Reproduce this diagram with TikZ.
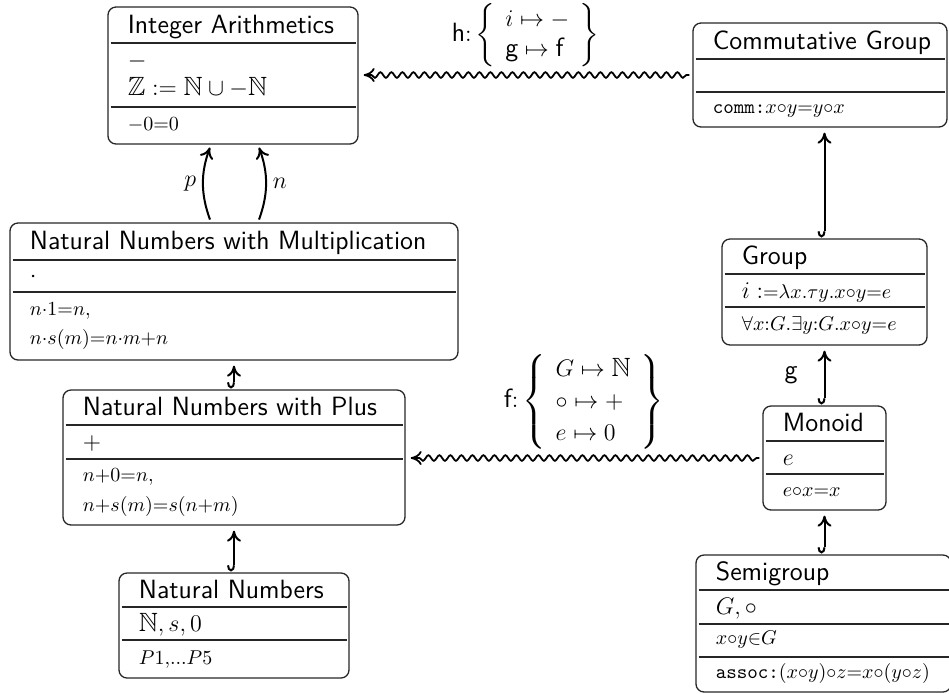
\documentclass[tikz,border=0pt]{standalone}
\usepackage{fontspec}
\usepackage{amsmath,amssymb}
\usetikzlibrary{arrows.meta,decorations.pathmorphing,fit,calc}
\DeclareMathSizes{13.2}{13.2}{10}{7}
\begin{document}
\begin{tikzpicture}[x=0.5pt,y=-0.5pt,
  frame/.style={draw=black!85, line width=0.65pt, rounded corners=4pt, inner sep=0pt},
  sepline/.style={draw=black!85, line width=0.6pt},
  ttl/.style={anchor=base west, inner sep=0pt, font=\fontsize{13.2}{16}\selectfont\sffamily},
  txt/.style={anchor=base west, inner sep=0pt, font=\fontsize{13.2}{16}\selectfont},
  lab/.style={font=\fontsize{13.2}{16}\selectfont, inner sep=1pt},
  tip/.style={-{To[length=5.5pt,width=7pt]}},
  conn/.style={line width=1pt, tip, shorten <=1.5pt, shorten >=1.5pt},
  incl/.style={line width=1pt, {Hooks[right,length=3pt,width=7pt]}-{To[length=5.5pt,width=7pt]}, shorten <=0.5pt, shorten >=2.5pt},
  wavy/.style={line width=0.9pt, tip, decorate, decoration={snake, amplitude=1.4pt, segment length=5.5pt, pre length=3pt, post length=6pt}, shorten >=2.5pt, shorten <=1.5pt}
]
\useasboundingbox (0,0) rectangle (949,693);

% Integer Arithmetics
\node[frame, fit={(108,7)(358,144)}] (ia) {};
\draw[sepline] (110.5,43) -- (355.5,43) (110.5,107) -- (355.5,107);
\node[ttl] (iat) at (127.5,33) {Integer Arithmetics};
\node[txt] (iac1) at (127.5,67) {$-$};
\node[txt] (iac2) at (127.5,95) {$\mathbb{Z} := \mathbb{N}\cup -\mathbb{N}$};
\node[txt] (iaa) at (127.5,130) {$\scriptstyle -0=0$};

% Commutative Group
\node[frame, fit={(693,23)(947,127)}] (cg) {};
\draw[sepline] (695.5,59) -- (944.5,59) (695.5,92) -- (944.5,92);
\node[ttl] (cgt) at (712.5,49) {Commutative Group};
\node[txt] (cga) at (712.5,113.5) {{\fontsize{10}{12}\selectfont\ttfamily comm:}$\scriptstyle x\circ y=y\circ x$};

% Natural Numbers with Multiplication
\node[frame, fit={(10,223)(458,360)}] (nm) {};
\draw[sepline] (12.5,260) -- (455.5,260) (12.5,292) -- (455.5,292);
\node[ttl] (nmt) at (29.5,249.5) {Natural Numbers with Multiplication};
\node[txt] (nmc) at (29.5,282) {$\cdot$};
\node[txt] (nma1) at (29.5,315) {$\scriptstyle n\cdot 1=n,$};
\node[txt] (nma2) at (29.5,344) {$\scriptstyle n\cdot s(m)=n\cdot m+n$};

% Group
\node[frame, fit={(722,239)(927,345)}] (gr) {};
\draw[sepline] (724.5,274) -- (924.5,274) (724.5,307) -- (924.5,307);
\node[ttl] (grt) at (741.5,264.5) {Group};
\node[txt] (grc) at (741.5,298) {$i :\scriptstyle=\lambda x.\tau y.x\circ y=e$};
\node[txt] (gra) at (741.5,330) {$\scriptstyle \forall x:G.\exists y:G.x\circ y=e$};

% Monoid
\node[frame, fit={(763,406)(886,510)}] (mo) {};
\draw[sepline] (765.5,441) -- (883.5,441) (765.5,474) -- (883.5,474);
\node[ttl] (mot) at (782.5,431.5) {Monoid};
\node[txt] (moc) at (782.5,465) {$e$};
\node[txt] (moa) at (782.5,496) {$\scriptstyle e\circ x=x$};

% Natural Numbers with Plus
\node[frame, fit={(63,390)(405,525)}] (np) {};
\draw[sepline] (65.5,425) -- (402.5,425) (65.5,459) -- (402.5,459);
\node[ttl] (npt) at (82.5,415.5) {Natural Numbers with Plus};
\node[txt] (npc) at (82.5,449.5) {$+$};
\node[txt] (npa1) at (82.5,481) {$\scriptstyle n+0=n,$};
\node[txt] (npa2) at (82.5,511) {$\scriptstyle n+s(m)=s(n+m)$};

% Natural Numbers
\node[frame, fit={(119,573)(349,678)}] (nn) {};
\draw[sepline] (121.5,607) -- (346.5,607) (121.5,640) -- (346.5,640);
\node[ttl] (nnt) at (138.5,598) {Natural Numbers};
\node[txt] (nnc) at (138.5,631) {$\mathbb{N}, s, 0$};
\node[txt] (nna) at (138.5,664) {$\scriptstyle P1,\ldots P5$};

% Semigroup
\node[frame, fit={(696,555)(951,692)}] (sg) {};
\draw[sepline] (698.5,590) -- (948.5,590) (698.5,624) -- (948.5,624) (698.5,657) -- (948.5,657);
\node[ttl] (sgt) at (715.5,580.5) {Semigroup};
\node[txt] (sgc) at (715.5,614.5) {$G, \circ$};
\node[txt] (sga1) at (715.5,644.5) {$\scriptstyle x\circ y\in G$};
\node[txt] (sga2) at (715.5,678.5) {{\fontsize{10}{12}\selectfont\ttfamily assoc:}$\scriptstyle (x\circ y)\circ z=x\circ(y\circ z)$};

% wavy morphisms
\draw[wavy] (cg.west) -- (cg.west -| ia.east);
\node[lab, inner sep=0pt, anchor=south, yshift=3.8pt] (hlab) at ($(ia.east)!0.5!(cg.west)$)
  {\renewcommand{\arraystretch}{0.94}$\mathsf{h}{:}\,\biggl\{\begin{array}{l} i\mapsto - \\ \mathsf{g}\mapsto\mathsf{f}\end{array}\biggr\}$};
\draw[wavy] (mo.west) -- (mo.west -| np.east);
\node[lab, anchor=south, yshift=3pt] (flab) at ($(mo.west -| np.east)!0.5!(mo.west)$)
  {$\mathsf{f}{:}\left\{\begin{array}{l} G\mapsto\mathbb{N} \\ \circ\mapsto + \\ e\mapsto 0\end{array}\right\}$};

% inclusions
\draw[incl] (nn.north) -- (nn.north |- np.south);
\draw[incl] (np.north) -- (np.north |- nm.south);
\draw[incl] (mo.south |- sg.north) -- (mo.south);
\draw[incl] (mo.north) -- (mo.north |- gr.south) node[midway, left=12pt, lab] (glab) {$\mathsf{g}$};
\draw[incl] (gr.north) -- (gr.north |- cg.south);

% p and n
\draw[conn] ([xshift=-11.5pt]nm.north) to[bend left=20] node[left=2pt, lab] (plab) {$p$} ([xshift=-11.5pt]nm.north |- ia.south);
\draw[conn] ([xshift=12pt]nm.north) to[bend right=20] node[right=2pt, lab] (nlab) {$n$} ([xshift=12pt]nm.north |- ia.south);
\end{tikzpicture}
\end{document}
